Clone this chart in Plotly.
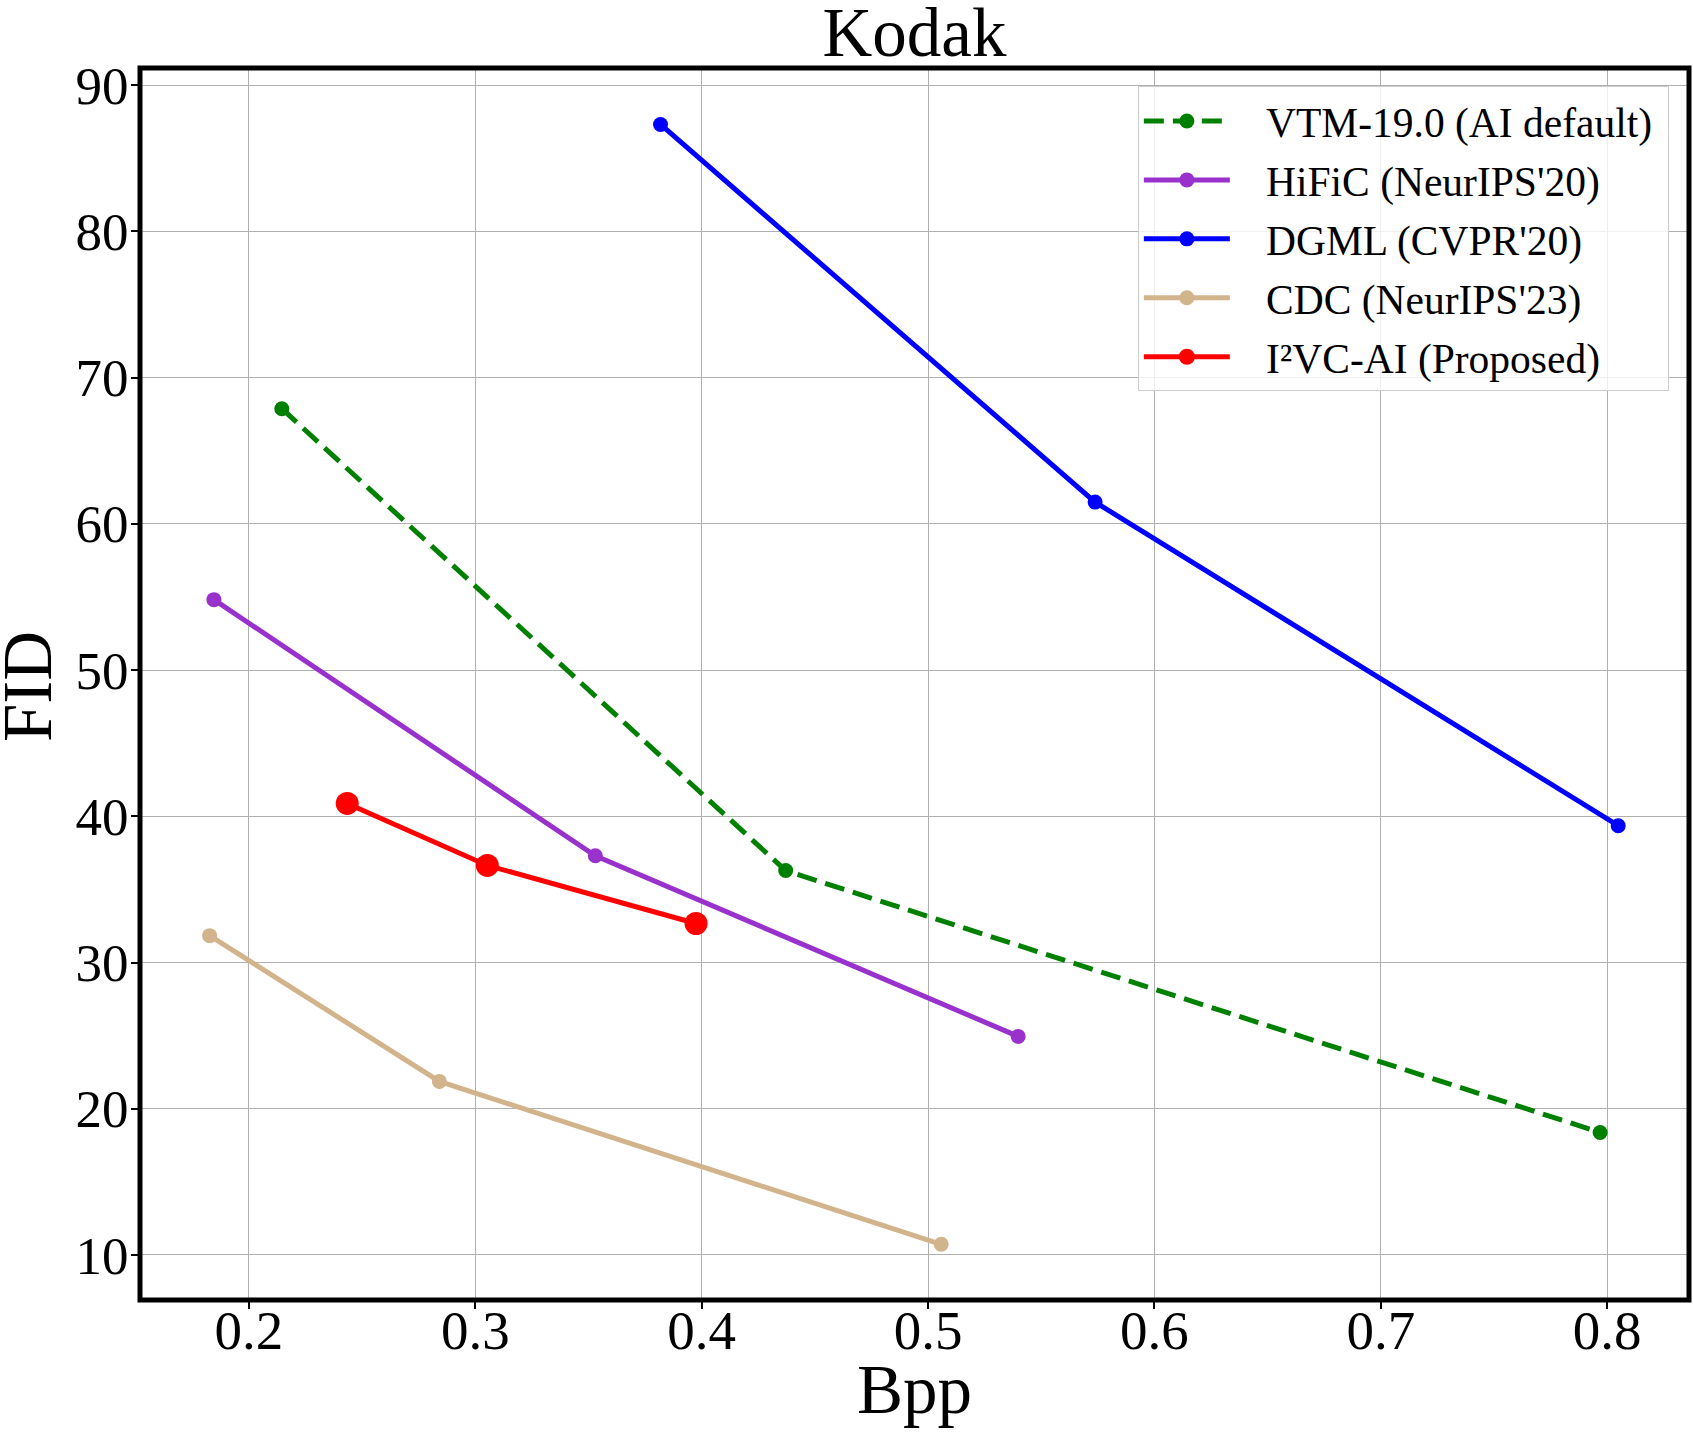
import plotly.graph_objects as go

# ---- data ----
vtm_bpp = [0.2145, 0.4371, 0.7969]
vtm_fid = [67.88, 36.29, 18.38]

hific_bpp = [0.1845, 0.3530, 0.5398]
hific_fid = [54.82, 37.30, 24.95]

dgml_bpp = [0.3818, 0.5738, 0.8049]
dgml_fid = [87.32, 61.49, 39.36]

cdc_bpp = [0.1826, 0.2841, 0.5058]
cdc_fid = [31.84, 21.87, 10.73]

prop_bpp = [0.2434, 0.3053, 0.3975]
prop_fid = [40.88, 36.64, 32.67]

series_names = ["VTM-19.0 (AI default)", "HiFiC (NeurIPS'20)", "DGML (CVPR'20)",
                "CDC (NeurIPS'23)", "I²VC-AI (Proposed)"]

x_ticks = [0.2, 0.3, 0.4, 0.5, 0.6, 0.7, 0.8]
y_ticks = [10, 20, 30, 40, 50, 60, 70, 80, 90]

FONT = "Liberation Serif, Times New Roman, serif"
NB = "\u00a0"

fig = go.Figure()

def add(name, x, y, color, dash="solid", msize=15, group="g"):
    fig.add_trace(go.Scatter(
        x=x, y=y, name=NB * 3 + name + NB, mode="lines+markers",
        line=dict(color=color, width=5, dash=dash),
        marker=dict(color=color, size=msize, symbol="circle"),
        legendgroup=group,
    ))

add(series_names[0], vtm_bpp, vtm_fid, "#008000", dash="20px,9px", group="a")
add(series_names[1], hific_bpp, hific_fid, "#9932CC", group="b")
add(series_names[2], dgml_bpp, dgml_fid, "#0000FF", group="c")
add(series_names[3], cdc_bpp, cdc_fid, "#D2B48C", group="d")
add(series_names[4], prop_bpp, prop_fid, "#FF0000", msize=23, group="e")

L, R, T, B = 140, 4, 68, 134
W, H = 1693, 1434
PW, PH = W - L - R, H - T - B

axis_common = dict(
    showgrid=True, gridcolor="#b0b0b0", gridwidth=1.2,
    zeroline=False, showline=False,
    ticks="outside", ticklen=8, tickwidth=1.5, tickcolor="black",
)

fig.update_layout(
    width=W, height=H, autosize=False,
    margin=dict(l=L, r=R, t=T, b=B, pad=0),
    paper_bgcolor="white", plot_bgcolor="white",
    font=dict(family=FONT, color="black"),
    title=dict(text="Kodak", font=dict(family=FONT, size=69, color="black"),
               x=0.5, xref="paper", xanchor="center",
               y=1 - 56 / H, yref="container", yanchor="bottom"),
    xaxis=dict(range=[0.15185, 0.83617], tickvals=x_ticks,
               ticktext=[f"{v:.1f}" for v in x_ticks],
               ticklabelstandoff=-26,
               tickfont=dict(family=FONT, size=55, color="black"),
               **axis_common),
    yaxis=dict(range=[6.92, 91.18], tickvals=y_ticks,
               ticktext=[str(v) for v in y_ticks],
               ticklabelstandoff=-8,
               tickfont=dict(family=FONT, size=53, color="black"),
               **axis_common),
    legend=dict(
        x=0.987, y=0.985, xanchor="right", yanchor="top",
        xref="paper", yref="paper",
        bgcolor="rgba(255,255,255,0.8)", bordercolor="#cccccc", borderwidth=1,
        font=dict(family=FONT, size=41.5, color="black"),
        itemwidth=86, tracegroupgap=2, traceorder="grouped",
    ),
    annotations=[
        dict(text="Bpp", xref="paper", yref="paper", x=0.5, y=-(1390 - (H - B)) / PH,
             xanchor="center", yanchor="middle", showarrow=False,
             font=dict(family=FONT, size=69, color="black")),
        dict(text="FID", xref="paper", yref="paper", x=-(L - 28) / PW, y=1 - (686 - T) / PH,
             xanchor="center", yanchor="middle", showarrow=False, textangle=-90,
             font=dict(family=FONT, size=69, color="black")),
    ],
    shapes=[dict(type="rect", xref="paper", yref="paper", x0=0, y0=0, x1=1, y1=1,
                 line=dict(color="black", width=5), fillcolor="rgba(0,0,0,0)", layer="above")],
)

fig.write_html("out.html", config={"displayModeBar": False},
               post_script="document.body.style.margin='0';document.body.style.overflow='hidden';")
